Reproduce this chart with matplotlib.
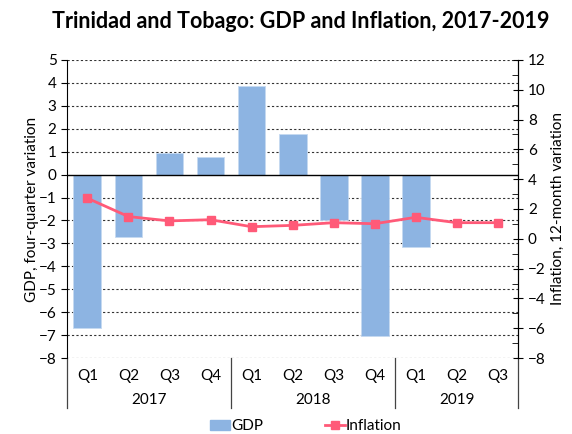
import numpy as np
import matplotlib
matplotlib.use("Agg")
import matplotlib.pyplot as plt
from matplotlib.ticker import MultipleLocator
from matplotlib.transforms import blended_transform_factory
from matplotlib.patches import Patch

plt.rcParams['font.family'] = ['Lato', 'DejaVu Sans']

quarters = ["Q1", "Q2", "Q3", "Q4", "Q1", "Q2", "Q3", "Q4", "Q1", "Q2", "Q3"]
years = ["2017", "2018", "2019"]
year_counts = [4, 4, 3]
gdp = [-6.68, -2.72, 0.92, 0.77, 3.85, 1.78, -2.0, -7.05, -3.14, np.nan, np.nan]
inflation = [2.72, 1.49, 1.2, 1.28, 0.81, 0.9, 1.08, 1.01, 1.44, 1.08, 1.08]

bar_color = "#8DB4E2"
line_color = "#FF5A78"
fs = 11

fig = plt.figure(figsize=(5.72, 4.34), dpi=100)
ax = fig.add_axes([0.117, 0.175, 0.789, 0.687])
x = np.arange(len(quarters))

ax.bar(x, gdp, width=0.68, color=bar_color, edgecolor="#C5D9F1", linewidth=0.6, zorder=2)
ax.set_xlim(-0.5, len(quarters) - 0.5)
ax.set_ylim(-8, 5)
ax.set_yticks(range(-8, 6))
for v in range(-8, 6):
    if v != 0:
        ax.axhline(v, color="#333333", linestyle=(0, (2, 2)), linewidth=0.8, zorder=1)
ax.axhline(0, color="black", linewidth=1.0, zorder=3)

ax.set_xticks(x)
ax.set_xticklabels(quarters, fontsize=fs)
ax.tick_params(axis="x", length=0, pad=8)
ax.tick_params(axis="y", direction="out", length=4, labelsize=fs)
ax.set_ylabel("GDP, four-quarter variation", fontsize=fs, labelpad=0)
for s in ["top", "bottom"]:
    ax.spines[s].set_visible(False)

# year labels and separators below the axis
trans = blended_transform_factory(ax.transData, ax.transAxes)
start = -0.5
bounds = [start]
for yr, n in zip(years, year_counts):
    mid = start + n / 2
    ax.text(mid, -0.14, yr, transform=trans, ha="center", va="center", fontsize=fs)
    start += n
    bounds.append(start)
for b in bounds:
    ax.plot([b, b], [0, -0.168], transform=trans, color="#444444", linewidth=0.9, clip_on=False)

ax2 = ax.twinx()
ax2.plot(x, inflation, color=line_color, linewidth=2, marker="s", markersize=6, zorder=5)
ax2.set_ylim(-8, 12)
ax2.set_yticks(range(-8, 13, 2))
ax2.yaxis.set_minor_locator(MultipleLocator(1))
ax2.tick_params(axis="y", which="major", direction="inout", length=7, labelsize=fs)
ax2.tick_params(axis="y", which="minor", direction="in", length=4)
ax2.set_ylabel("Inflation, 12-month variation", fontsize=fs, labelpad=4)
for s in ["top", "bottom", "left"]:
    ax2.spines[s].set_visible(False)

handles = [Patch(color=bar_color, label="GDP"),
           plt.Line2D([], [], color=line_color, linewidth=2, marker="s", markersize=6, label="Inflation")]
fig.legend(handles=handles, loc="lower center", bbox_to_anchor=(0.535, -0.03), ncol=2,
           frameon=False, fontsize=fs, handlelength=1.3, handletextpad=0.1, columnspacing=4)

fig.suptitle("Trinidad and Tobago: GDP and Inflation, 2017-2019", fontsize=15.5,
             fontweight="bold", x=0.525, y=0.975)

fig.savefig("out.png", dpi=100)
